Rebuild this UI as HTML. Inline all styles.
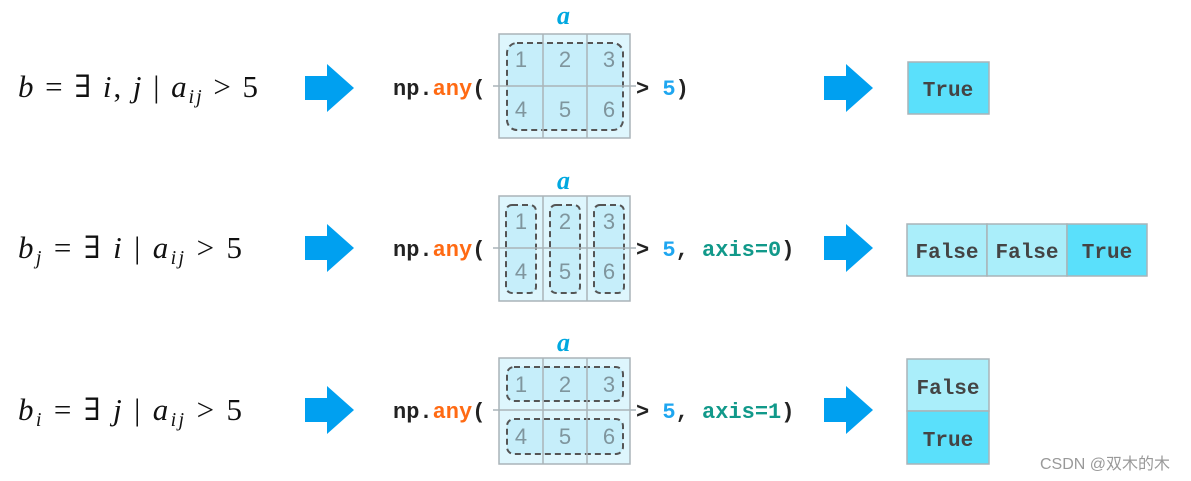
<!DOCTYPE html>
<html><head><meta charset="utf-8"><style>
html,body{margin:0;padding:0;background:#fff;width:1191px;height:481px;overflow:hidden}
svg{display:block}
.m{font-family:"Liberation Serif","DejaVu Serif",serif;font-size:31px;fill:#111}
.c{font-family:"Liberation Mono","DejaVu Sans Mono",monospace;font-size:22px;font-weight:bold;fill:#222}
.n{font-family:"Liberation Sans","DejaVu Sans",sans-serif;font-size:22px;fill:#7f959d}
.b{font-family:"Liberation Mono","DejaVu Sans Mono",monospace;font-size:21px;font-weight:bold;fill:#444}
.a{font-family:"Liberation Serif",serif;font-style:italic;font-weight:bold;font-size:26px;fill:#00a8e0}
</style></head><body>
<svg width="1191" height="481" viewBox="0 0 1191 481" xmlns="http://www.w3.org/2000/svg">
<defs>
<g id="arr"><polygon points="0,-12 22,-12 22,-24 49,0 22,24 22,12 0,12" fill="#00a0f0"/></g>
</defs>

<!-- formulas -->
<text class="m" x="18" y="97" textLength="240" lengthAdjust="spacing"><tspan font-style="italic">b</tspan> = ∃ <tspan font-style="italic">i</tspan>, <tspan font-style="italic">j</tspan> | <tspan font-style="italic">a</tspan><tspan font-style="italic" font-size="20" dy="6">ij</tspan><tspan dy="-6"> &gt; 5</tspan></text>
<text class="m" x="18" y="258" textLength="224" lengthAdjust="spacing"><tspan font-style="italic">b</tspan><tspan font-style="italic" font-size="20" dy="6">j</tspan><tspan dy="-6"> = ∃ </tspan><tspan font-style="italic">i</tspan> | <tspan font-style="italic">a</tspan><tspan font-style="italic" font-size="20" dy="6">ij</tspan><tspan dy="-6"> &gt; 5</tspan></text>
<text class="m" x="18" y="420" textLength="224" lengthAdjust="spacing"><tspan font-style="italic">b</tspan><tspan font-style="italic" font-size="20" dy="6">i</tspan><tspan dy="-6"> = ∃ </tspan><tspan font-style="italic">j</tspan> | <tspan font-style="italic">a</tspan><tspan font-style="italic" font-size="20" dy="6">ij</tspan><tspan dy="-6"> &gt; 5</tspan></text>

<!-- arrows -->
<use href="#arr" x="305" y="88"/><use href="#arr" x="305" y="248"/><use href="#arr" x="305" y="410"/>
<use href="#arr" x="824" y="88"/><use href="#arr" x="824" y="248"/><use href="#arr" x="824" y="410"/>

<!-- grid 1 -->
<text class="a" x="557" y="24">a</text>
<rect x="499" y="34" width="131" height="104" fill="#def6fd" stroke="#aab4b8" stroke-width="1.5"/>
<rect x="507" y="43" width="116" height="87" rx="10" fill="#c6eefa" stroke="#555" stroke-width="2" stroke-dasharray="6,4"/>
<path d="M543 34V138M587 34V138M493 86H636" stroke="#aab4b8" stroke-width="1.5"/>
<g class="n" text-anchor="middle"><text x="521" y="67">1</text><text x="565" y="67">2</text><text x="609" y="67">3</text><text x="521" y="117">4</text><text x="565" y="117">5</text><text x="609" y="117">6</text></g>
<text class="c" x="393" y="95">np.<tspan fill="#ff6a13">any</tspan>(</text>
<text class="c" x="636" y="95">&gt; <tspan fill="#1ea6f0">5</tspan>)</text>

<!-- grid 2 -->
<text class="a" x="557" y="189">a</text>
<rect x="499" y="196" width="131" height="105" fill="#def6fd" stroke="#aab4b8" stroke-width="1.5"/>
<rect x="506" y="205" width="30" height="88" rx="6" fill="#c6eefa" stroke="#555" stroke-width="2" stroke-dasharray="6,4"/>
<rect x="550" y="205" width="30" height="88" rx="6" fill="#c6eefa" stroke="#555" stroke-width="2" stroke-dasharray="6,4"/>
<rect x="594" y="205" width="30" height="88" rx="6" fill="#c6eefa" stroke="#555" stroke-width="2" stroke-dasharray="6,4"/>
<path d="M543 196V301M587 196V301M493 248H636" stroke="#aab4b8" stroke-width="1.5"/>
<g class="n" text-anchor="middle"><text x="521" y="229">1</text><text x="565" y="229">2</text><text x="609" y="229">3</text><text x="521" y="279">4</text><text x="565" y="279">5</text><text x="609" y="279">6</text></g>
<text class="c" x="393" y="256">np.<tspan fill="#ff6a13">any</tspan>(</text>
<text class="c" x="636" y="256">&gt; <tspan fill="#1ea6f0">5</tspan>, <tspan fill="#11998a">axis=0</tspan>)</text>

<!-- grid 3 -->
<text class="a" x="557" y="351">a</text>
<rect x="499" y="358" width="131" height="106" fill="#def6fd" stroke="#aab4b8" stroke-width="1.5"/>
<rect x="507" y="367" width="116" height="34" rx="7" fill="#c6eefa" stroke="#555" stroke-width="2" stroke-dasharray="6,4"/>
<rect x="507" y="419" width="116" height="35" rx="7" fill="#c6eefa" stroke="#555" stroke-width="2" stroke-dasharray="6,4"/>
<path d="M543 358V464M587 358V464M493 410H636" stroke="#aab4b8" stroke-width="1.5"/>
<g class="n" text-anchor="middle"><text x="521" y="392">1</text><text x="565" y="392">2</text><text x="609" y="392">3</text><text x="521" y="444">4</text><text x="565" y="444">5</text><text x="609" y="444">6</text></g>
<text class="c" x="393" y="418">np.<tspan fill="#ff6a13">any</tspan>(</text>
<text class="c" x="636" y="418">&gt; <tspan fill="#1ea6f0">5</tspan>, <tspan fill="#11998a">axis=1</tspan>)</text>

<!-- results -->
<g stroke="#a9b4b8" stroke-width="1.5">
<rect x="908" y="62" width="81" height="52" fill="#5ae0fb"/>
<rect x="907" y="224" width="80" height="52" fill="#aaeefa"/>
<rect x="987" y="224" width="80" height="52" fill="#aaeefa"/>
<rect x="1067" y="224" width="80" height="52" fill="#5ae0fb"/>
<rect x="907" y="359" width="82" height="52" fill="#aaeefa"/>
<rect x="907" y="411" width="82" height="53" fill="#5ae0fb"/>
</g>
<g class="b" text-anchor="middle">
<text x="948" y="96">True</text>
<text x="947" y="258">False</text><text x="1027" y="258">False</text><text x="1107" y="258">True</text>
<text x="948" y="394">False</text><text x="948" y="446">True</text>
</g>

<text x="1040" y="469" font-family="'Liberation Sans','Noto Sans CJK SC',sans-serif" font-size="16" fill="#999">CSDN @双木的木</text>
</svg>
</body></html>
